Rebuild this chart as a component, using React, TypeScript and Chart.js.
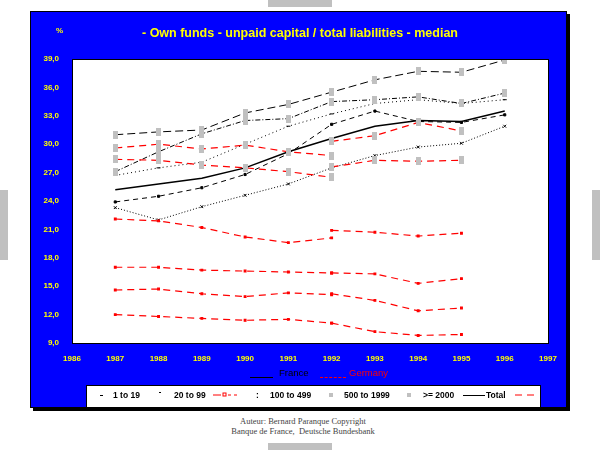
import { useEffect, useRef } from "react"
import { Chart, registerables } from "chart.js"

Chart.register(...registerables)

// France 1987-1996
const years = [1987, 1988, 1989, 1990, 1991, 1992, 1993, 1994, 1995, 1996]
const fr1to19 = [23.3, 22.0, 23.4, 24.6, 25.8, 27.5, 28.8, 29.7, 30.1, 31.9]
const fr20to99 = [23.9, 24.5, 25.4, 26.8, 29.0, 32.1, 33.5, 32.4, 32.3, 33.1]
const fr100to499 = [26.7, 27.5, 28.1, 30.0, 31.9, 33.2, 34.3, 34.7, 34.3, 34.7]
const fr500to1999 = [27.1, 29.2, 31.1, 32.5, 32.7, 34.5, 34.7, 35.0, 34.3, 35.4]
const fr2000 = [31.0, 31.3, 31.5, 33.3, 34.2, 35.5, 36.8, 37.7, 37.6, 38.9]
const frTotal = [25.2, 25.8, 26.4, 27.5, 29.2, 30.6, 31.9, 32.5, 32.4, 33.5]

// Germany: old basis 1987-1992, new basis 1992-1995
const yearsOld = [1987, 1988, 1989, 1990, 1991, 1992]
const yearsNew = [1992, 1993, 1994, 1995]
const de2000Old = [29.6, 30.0, 29.5, 29.9, 29.2, 28.8]
const de2000New = [30.3, 30.9, 32.3, 31.4]
const de500Old = [28.4, 28.3, 27.8, 27.5, 27.1, 26.5]
const de500New = [27.6, 28.3, 28.2, 28.3]
const de100Old = [22.1, 21.9, 21.2, 20.2, 19.6, 20.1]
const de100New = [20.9, 20.7, 20.3, 20.6]
const deTotalOld = [17.0, 17.0, 16.7, 16.6, 16.5, 16.4]
const deTotalNew = [16.4, 16.3, 15.3, 15.8]
const de20Old = [14.6, 14.7, 14.2, 13.9, 14.3, 14.1]
const de20New = [14.2, 13.5, 12.4, 12.7]
const de1Old = [12.0, 11.8, 11.6, 11.4, 11.5, 11.1]
const de1New = [11.1, 10.2, 9.8, 9.9]

const yMin = 9
const yMax = 39
const yStep = 3

const YELLOW = "#ffff00"
const RED = "#ff0000"
const GREY = "#c0c0c0"

function france(values: number[]) {
  return years.map((x, i) => ({ x, y: values[i] }))
}

function germany(oldVals: number[], newVals: number[]) {
  return [
    ...yearsOld.map((x, i) => ({ x, y: oldVals[i] })),
    { x: 1992, y: null },
    ...yearsNew.map((x, i) => ({ x, y: newVals[i] })),
  ]
}

// small grey box used as point marker
function greyBox() {
  const c = document.createElement("canvas")
  c.width = 5
  c.height = 8
  const g = c.getContext("2d")
  if (g) {
    g.fillStyle = GREY
    g.fillRect(0, 0, 5, 8)
  }
  return c
}

const plotFrame = {
  id: "plotFrame",
  beforeDraw(chart: any) {
    const { ctx, chartArea: a } = chart
    ctx.save()
    ctx.fillStyle = "#ffffff"
    ctx.fillRect(a.left, a.top, a.right - a.left, a.bottom - a.top)
    ctx.restore()
  },
  afterDraw(chart: any) {
    const { ctx, chartArea: a } = chart
    ctx.save()
    ctx.strokeStyle = "#000000"
    ctx.lineWidth = 1
    ctx.strokeRect(a.left + 0.5, a.top + 0.5, a.right - a.left, a.bottom - a.top)
    ctx.restore()
  },
}

function LiabilitiesChart() {
  const chartRef = useRef<HTMLCanvasElement>(null)
  const chartInstance = useRef<Chart | null>(null)

  useEffect(() => {
    if (!chartRef.current) return
    if (chartInstance.current) chartInstance.current.destroy()

    const box = greyBox()
    const frLine = (label: string, values: number[], dash: number[], extra: any = {}) => ({
      label,
      data: france(values),
      borderColor: "#000000",
      backgroundColor: "#000000",
      borderWidth: 1,
      borderDash: dash,
      pointRadius: 1.5,
      pointStyle: "rect",
      ...extra,
    })
    const deLine = (label: string, o: number[], n: number[], extra: any = {}) => ({
      label,
      data: germany(o, n),
      borderColor: RED,
      backgroundColor: RED,
      borderWidth: 1.2,
      borderDash: [7, 5],
      pointRadius: 1.2,
      pointStyle: "rect",
      spanGaps: false,
      ...extra,
    })

    const ctx = chartRef.current.getContext("2d")
    if (ctx) {
      chartInstance.current = new Chart(ctx, {
        type: "line",
        data: {
          datasets: [
            deLine("Germany >= 2000", de2000Old, de2000New, { pointStyle: box }),
            deLine("Germany 500 to 1999", de500Old, de500New, { pointStyle: box }),
            deLine("Germany 100 to 499", de100Old, de100New),
            deLine("Germany Total", deTotalOld, deTotalNew),
            deLine("Germany 20 to 99", de20Old, de20New),
            deLine("Germany 1 to 19", de1Old, de1New),
            frLine("France >= 2000", fr2000, [8, 4], { pointStyle: box }),
            frLine("France 500 to 1999", fr500to1999, [5, 2, 1, 2], { pointStyle: box }),
            frLine("France 100 to 499", fr100to499, [1, 3], { pointStyle: "line", pointRadius: 2 }),
            frLine("France 20 to 99", fr20to99, [5, 4]),
            frLine("France 1 to 19", fr1to19, [1, 2], { pointStyle: "crossRot", pointRadius: 2 }),
            frLine("France Total", frTotal, [], { borderWidth: 1.5, pointRadius: 0 }),
          ] as any,
        },
        options: {
          responsive: true,
          maintainAspectRatio: false,
          animation: false,
          layout: { padding: { top: 47, right: 18, bottom: 44, left: 0 } },
          plugins: {
            legend: { display: false },
            title: { display: false },
            tooltip: { enabled: false },
          },
          scales: {
            x: {
              type: "linear",
              min: 1986,
              max: 1997,
              afterFit: (s: any) => {
                s.height = 20
              },
              grid: { display: false },
              border: { display: true, color: "#000000" },
              ticks: {
                stepSize: 1,
                color: YELLOW,
                padding: 3,
                maxRotation: 0,
                font: { family: "Arial, 'Liberation Sans', sans-serif", size: 8, weight: "bold" },
                callback: (v: any) => String(v),
              },
            },
            y: {
              min: yMin,
              max: yMax,
              afterFit: (s: any) => {
                s.width = 41
              },
              grid: { display: false },
              border: { display: true, color: "#000000" },
              ticks: {
                stepSize: yStep,
                color: YELLOW,
                padding: 5,
                font: { family: "Arial, 'Liberation Sans', sans-serif", size: 8, weight: "bold" },
                callback: (v: any) => Number(v).toFixed(1).replace(".", ","),
              },
            },
          },
        },
        plugins: [plotFrame],
      })
    }

    return () => {
      if (chartInstance.current) {
        chartInstance.current.destroy()
        chartInstance.current = null
      }
    }
  }, [])

  return <canvas ref={chartRef} />
}

const abs = (left: number, top: number, extra: any = {}) => ({
  position: "absolute" as const,
  left,
  top,
  ...extra,
})

const legendFont = {
  fontFamily: "Arial, 'Liberation Sans', sans-serif",
  fontSize: 8.5,
  fontWeight: "bold" as const,
  color: "#000000",
  lineHeight: "10px",
  whiteSpace: "nowrap" as const,
}

export default function App() {
  return (
    <div style={{ position: "absolute", left: 0, top: 0, width: 600, height: 450, background: "#ffffff", overflow: "hidden" }}>
      {/* grey slide markers */}
      <div style={abs(268, 0, { width: 64, height: 7, background: GREY })} />
      <div style={abs(268, 443, { width: 64, height: 7, background: GREY })} />
      <div style={abs(0, 190, { width: 8, height: 70, background: GREY })} />
      <div style={abs(592, 190, { width: 8, height: 70, background: GREY })} />

      {/* blue panel */}
      <div
        style={abs(30, 11, {
          width: 537,
          height: 397,
          boxSizing: "border-box",
          background: "#0000ff",
          border: "1px solid #000000",
          boxShadow: "3px 3px 0 #000000",
        })}
      >
        <div style={{ position: "absolute", left: 0, top: 0, width: 535, height: 395 }}>
          <LiabilitiesChart />
        </div>
      </div>

      <div
        style={abs(0, 25, {
          width: 600,
          textAlign: "center",
          color: YELLOW,
          fontFamily: "Arial, 'Liberation Sans', sans-serif",
          fontSize: 12.5,
          fontWeight: "bold",
          lineHeight: "16px",
        })}
      >
        - Own funds - unpaid capital / total liabilities - median
      </div>
      <div style={abs(56, 26, { color: YELLOW, fontFamily: "Arial, sans-serif", fontSize: 8, fontWeight: "bold" })}>%</div>

      {/* country key */}
      <div style={abs(250, 377, { width: 23, height: 0, borderTop: "1px solid #000000" })} />
      <div style={abs(279, 367, { fontFamily: "Arial, sans-serif", fontSize: 9.5, color: "#000000", lineHeight: "12px" })}>France</div>
      <div style={abs(320, 377, { width: 26, height: 0, borderTop: "1px dashed " + RED })} />
      <div style={abs(349, 367, { fontFamily: "Arial, sans-serif", fontSize: 9.5, color: RED, lineHeight: "12px" })}>Germany</div>

      {/* size class key */}
      <div
        style={abs(86, 385, {
          width: 455,
          height: 23,
          boxSizing: "border-box",
          background: "#ffffff",
          border: "1px solid #000000",
        })}
      />
      <div style={abs(100, 395, { width: 3, height: 1, background: "#000000" })} />
      <div style={abs(113, 390, legendFont)}>1 to 19</div>
      <div style={abs(159, 392, { width: 2, height: 1, background: "#000000" })} />
      <div style={abs(174, 390, legendFont)}>20 to 99</div>
      <svg style={abs(213, 391)} width={24} height={8}>
        <line x1={0} y1={4} x2={8} y2={4} stroke={RED} strokeWidth={1} />
        <rect x={10} y={2} width={3} height={3} fill="none" stroke={RED} strokeWidth={1} />
        <line x1={15} y1={4} x2={18} y2={4} stroke={RED} strokeWidth={1} />
        <line x1={21} y1={4} x2={24} y2={4} stroke={RED} strokeWidth={1} />
      </svg>
      <div style={abs(256, 390, legendFont)}>:</div>
      <div style={abs(270, 390, legendFont)}>100 to 499</div>
      <div style={abs(329, 393, { width: 4, height: 4, background: GREY })} />
      <div style={abs(344, 390, legendFont)}>500 to 1999</div>
      <div style={abs(407, 393, { width: 4, height: 4, background: GREY })} />
      <div style={abs(423, 390, legendFont)}>&gt;= 2000</div>
      <div style={abs(463, 395, { width: 22, height: 1, background: "#000000" })} />
      <div style={abs(486, 390, legendFont)}>Total</div>
      <svg style={abs(515, 391)} width={24} height={8}>
        <line x1={0} y1={4} x2={24} y2={4} stroke={RED} strokeWidth={1} strokeDasharray="7 5" />
      </svg>

      {/* source */}
      <div
        style={abs(0, 416, {
          width: 606,
          textAlign: "center",
          fontFamily: "'Liberation Serif', 'Times New Roman', serif",
          fontSize: 8.5,
          color: "#444444",
          lineHeight: "10px",
        })}
      >
        Auteur: Bernard Paranque Copyright
        <br />
        Banque de France,&nbsp; Deutsche Bundesbank
      </div>
    </div>
  )
}
